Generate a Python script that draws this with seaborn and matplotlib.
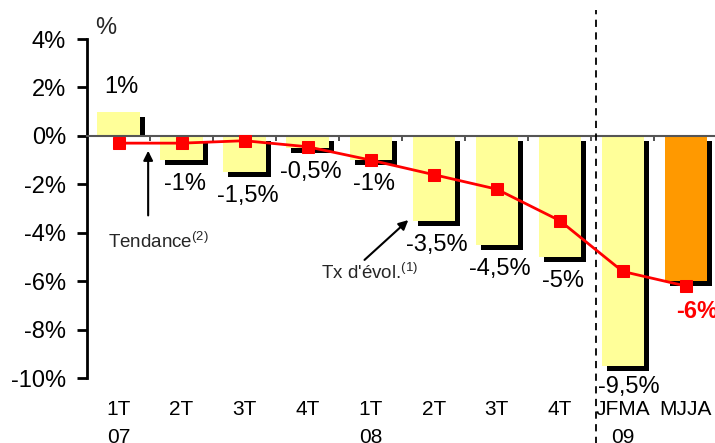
import matplotlib
matplotlib.use('Agg')
import matplotlib.pyplot as plt
from matplotlib.transforms import ScaledTranslation
from matplotlib.patches import Rectangle
import seaborn as sns
import pandas as pd
import numpy as np

# data
periods = ['1T\n07', '2T', '3T', '4T', '1T\n08', '2T', '3T', '4T', 'JFMA\n09', 'MJJA']
evolution = [1.0, -1.0, -1.5, -0.5, -1.0, -3.5, -4.5, -5.0, -9.5, -6.0]
trend = [-0.3, -0.3, -0.2, -0.45, -1.0, -1.6, -2.2, -3.5, -5.6, -6.2]
value_labels = ['1%', '-1%', '-1,5%', '-0,5%', '-1%', '-3,5%', '-4,5%', '-5%', '-9,5%', '-6%']
yticks = [4, 2, 0, -2, -4, -6, -8, -10]
ytick_labels = ['4%', '2%', '0%', '-2%', '-4%', '-6%', '-8%', '-10%']
bar_colors = ['#FFFF99'] * 9 + ['#FF9900']

sns.set_style('white')
plt.rcParams['font.family'] = ['Liberation Sans', 'DejaVu Sans']
plt.rcParams['mathtext.fontset'] = 'custom'
plt.rcParams['mathtext.rm'] = 'Liberation Sans'
plt.rcParams['mathtext.default'] = 'regular'

df = pd.DataFrame({'pos': np.arange(len(periods)), 'evol': evolution, 'trend': trend})

fig = plt.figure(figsize=(7.15, 4.43), dpi=100)
ax = fig.add_axes([0.1217, 0.1467, 0.8815, 0.7652])

# black drop shadow, shifted right / down by 5 px
sns.barplot(data=df, x='pos', y='evol', color='black', width=0.67, saturation=1,
            errorbar=None, linewidth=0, edgecolor='none', ax=ax, zorder=1)
shift = ScaledTranslation(5 / 100, -5 / 100, fig.dpi_scale_trans)
upper = Rectangle((-0.5, 0), 10, 4, transform=ax.transData)
for p in ax.patches:
    p.set_transform(ax.transData + shift)
    if p.get_height() > 0:
        # shadow of a positive bar stops at the zero line
        p.set_clip_path(upper)

# the bars themselves
sns.barplot(data=df, x='pos', y='evol', hue='pos', palette=bar_colors, width=0.67,
            saturation=1, errorbar=None, linewidth=0, edgecolor='none', legend=False,
            ax=ax, zorder=2)

# trend line
sns.lineplot(data=df, x='pos', y='trend', color='red', lw=2, marker='s', markersize=9,
             markeredgecolor='red', ax=ax, zorder=5)

ax.set_xlim(-0.5, 9.5)
ax.set_ylim(-10, 4)
ax.set_xlabel('')
ax.set_ylabel('')

for s in ['top', 'right']:
    ax.spines[s].set_visible(False)
ax.spines['left'].set_color('black')
ax.spines['left'].set_linewidth(2)
ax.spines['bottom'].set_position(('data', 0))
ax.spines['bottom'].set_color('#555555')
ax.spines['bottom'].set_linewidth(1.5)
ax.spines['bottom'].set_zorder(3)

ax.set_yticks(yticks, ytick_labels, fontsize=17)
ax.tick_params(axis='y', left=True, length=7, width=2, direction='out', pad=8,
               color='black', labelcolor='black')

ax.set_xticks(df['pos'], periods, fontsize=15, linespacing=1.6)
ax.tick_params(axis='x', which='major', bottom=True, length=0, pad=190, labelcolor='black')

# small tick marks between categories, hanging below the zero line
bounds = df['pos'][:-1] + 0.5
ax.plot(bounds, np.zeros(len(bounds)), ls='none', marker=3, markersize=3.5, mew=1.2,
        color='#333333', zorder=3, clip_on=False)

# value labels
for i, (v, lab) in enumerate(zip(evolution, value_labels)):
    dy = 1.0 if v > 0 else -1.0
    dx = 0.05
    kw = dict(fontsize=17, color='black')
    if i == len(evolution) - 1:
        dy = -1.27
        dx = 0.18
        kw = dict(fontsize=17, color='red', fontweight='bold')
    if i == 8:
        dx = 0.1
        dy = -0.87
    ax.text(i + dx, v + dy, lab, ha='center', va='center', clip_on=False, zorder=6, **kw)

ax.text(-0.21, 4.45, '%', fontsize=17, ha='center', va='center', clip_on=False)

# annotations
arrow = dict(arrowstyle='-|>', color='black', lw=1.5, mutation_scale=14)
ax.annotate('', xy=(0.47, -0.5), xytext=(0.47, -3.4), arrowprops=arrow)
ax.text(0.64, -4.4, 'Tendance$^{(2)}$', fontsize=13.5, ha='center', va='center')
ax.annotate('', xy=(4.63, -3.4), xytext=(3.87, -5.2), arrowprops=arrow)
ax.text(3.99, -5.65, "Tx d'évol.$^{(1)}$", fontsize=13.5, ha='center', va='center')

# separator between quarterly and 4-month periods
ax.axvline(7.58, ymin=-0.2, ymax=1.086, color='black', lw=1.3, ls=(0, (4, 3)),
           clip_on=False, zorder=4)

fig.savefig('out.png', dpi=100)
